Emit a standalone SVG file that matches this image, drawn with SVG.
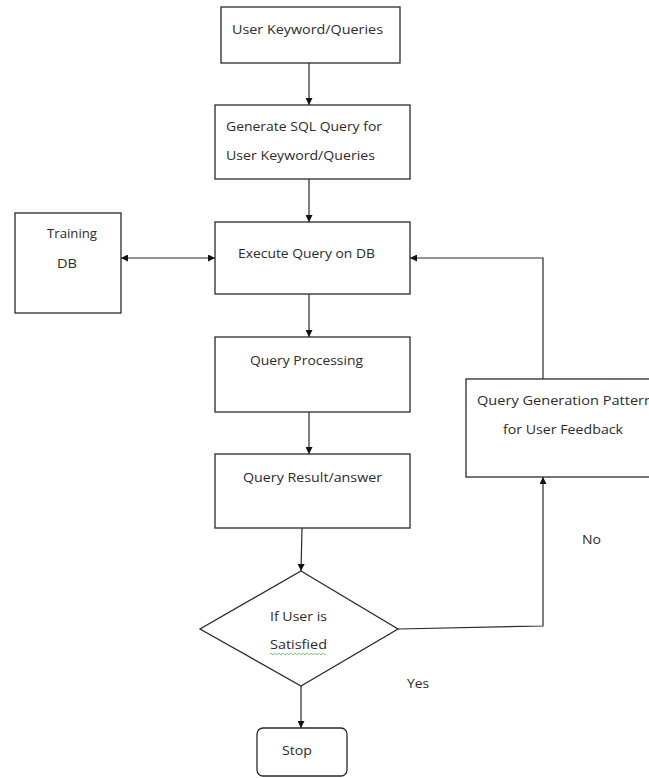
<svg xmlns="http://www.w3.org/2000/svg" width="649" height="778" viewBox="0 0 649 778">
<style>
.box{fill:#fff;stroke:#2a2a2a;stroke-width:1.3}
.t{font-family:"Open Sans","Liberation Sans",sans-serif;font-size:13.5px;fill:#2b2b2b}
.c{text-anchor:middle}
.ln{fill:none;stroke:#2a2a2a;stroke-width:1.2}
</style>
<defs>
<marker id="ah" viewBox="0 0 10 10" refX="10" refY="5" markerWidth="7" markerHeight="7" orient="auto-start-reverse" markerUnits="userSpaceOnUse">
<path d="M0,0 L10,5 L0,10 Z" fill="#111"/>
</marker>
</defs>
<rect width="649" height="778" fill="#fff"/>
<g id="connectors">
<line class="ln" x1="309" y1="63" x2="309" y2="105" marker-end="url(#ah)"/>
<line class="ln" x1="309" y1="179" x2="309" y2="222" marker-end="url(#ah)"/>
<line class="ln" x1="121" y1="258" x2="215" y2="258" marker-start="url(#ah)" marker-end="url(#ah)"/>
<line class="ln" x1="309" y1="294" x2="309" y2="337" marker-end="url(#ah)"/>
<line class="ln" x1="309" y1="412" x2="309" y2="454" marker-end="url(#ah)"/>
<line class="ln" x1="302" y1="528" x2="301" y2="571" marker-end="url(#ah)"/>
<line class="ln" x1="301" y1="686" x2="301" y2="728" marker-end="url(#ah)"/>
<polyline class="ln" points="398,629 543,626 543,477" marker-end="url(#ah)"/>
<polyline class="ln" points="543,379 543,258 410,258" marker-end="url(#ah)"/>
</g>
<g id="n1">
<rect class="box" x="221" y="7" width="179" height="56"/>
<text class="t" x="232" y="34" textLength="151" lengthAdjust="spacingAndGlyphs">User Keyword/Queries</text>
</g>
<g id="n2">
<rect class="box" x="215" y="105" width="195" height="74"/>
<text class="t" x="226" y="131" textLength="156" lengthAdjust="spacingAndGlyphs">Generate SQL Query for</text>
<text class="t" x="226" y="160" textLength="149" lengthAdjust="spacingAndGlyphs">User Keyword/Queries</text>
</g>
<g id="training">
<rect class="box" x="15" y="213" width="106" height="100"/>
<text class="t" x="47" y="238" textLength="50" lengthAdjust="spacingAndGlyphs">Training</text>
<text class="t" x="57" y="268" textLength="20" lengthAdjust="spacingAndGlyphs">DB</text>
</g>
<g id="n3">
<rect class="box" x="215" y="222" width="195" height="72"/>
<text class="t" x="238" y="258" textLength="137" lengthAdjust="spacingAndGlyphs">Execute Query on DB</text>
</g>
<g id="n4">
<rect class="box" x="215" y="337" width="195" height="75"/>
<text class="t" x="250" y="365" textLength="113" lengthAdjust="spacingAndGlyphs">Query Processing</text>
</g>
<g id="n5">
<rect class="box" x="215" y="454" width="195" height="74"/>
<text class="t" x="243" y="482" textLength="139" lengthAdjust="spacingAndGlyphs">Query Result/answer</text>
</g>
<g id="qg">
<rect class="box" x="466" y="379" width="200" height="98"/>
<text class="t" x="477" y="405" textLength="176" lengthAdjust="spacingAndGlyphs">Query Generation Pattern</text>
<text class="t" x="503" y="434" textLength="120" lengthAdjust="spacingAndGlyphs">for User Feedback</text>
</g>
<g id="decision">
<polygon class="box" points="301,571 398,629 301,686 200,629"/>
<text class="t" x="270" y="621" textLength="57" lengthAdjust="spacingAndGlyphs">If User is</text>
<text class="t" x="270" y="649" textLength="57" lengthAdjust="spacingAndGlyphs">Satisfied</text>
<path d="M270,654 q1,-1.5 2,0 t2,0 t2,0 t2,0 t2,0 t2,0 t2,0 t2,0 t2,0 t2,0 t2,0 t2,0 t2,0 t2,0 t2,0 t2,0 t2,0 t2,0 t2,0 t2,0 t2,0 t2,0 t2,0 t2,0 t2,0 t2,0 t2,0 t2,0" fill="none" stroke="#5cb85c" stroke-width="0.8"/>
</g>
<g id="stop">
<rect class="box" x="257" y="728" width="90" height="48" rx="6" ry="6"/>
<text class="t" x="282" y="755" textLength="30" lengthAdjust="spacingAndGlyphs">Stop</text>
</g>
<g id="labels">
<text class="t" x="582" y="544" textLength="19" lengthAdjust="spacingAndGlyphs">No</text>
<text class="t" x="407" y="688" textLength="22" lengthAdjust="spacingAndGlyphs">Yes</text>
</g>
</svg>
